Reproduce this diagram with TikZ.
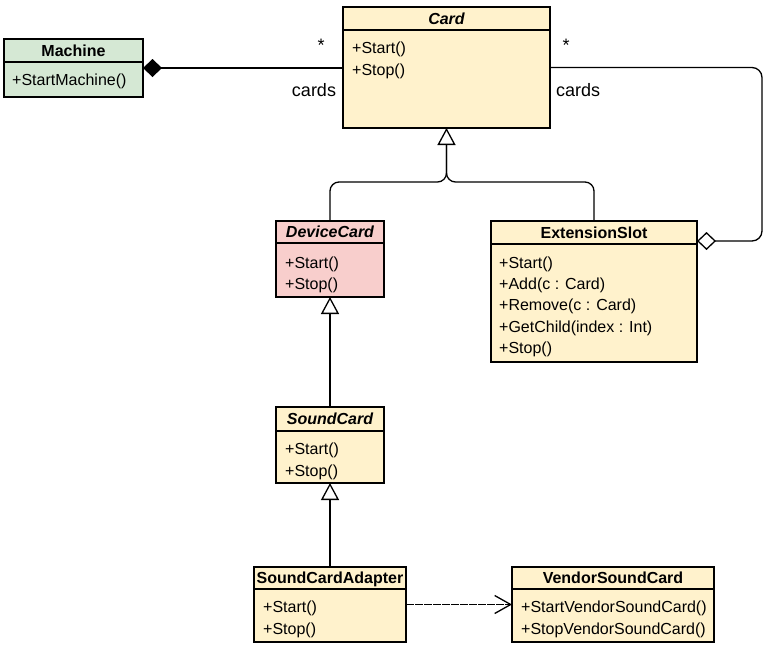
\documentclass[tikz,border=0pt]{standalone}
\usepackage{fontspec}
\setmainfont{Liberation Sans}
\usetikzlibrary{arrows.meta}
\definecolor{yelfill}{HTML}{FFF2CC}
\definecolor{grnfill}{HTML}{D5E8D4}
\definecolor{pinkfill}{HTML}{F8CECC}
\begin{document}
\begin{tikzpicture}[x=1pt,y=-1pt,
  cls/.style={draw=black, line width=1.3pt, inner sep=0pt, outer sep=0pt},
  ttl/.style={anchor=base, inner sep=0pt, font=\fontsize{16}{19}\selectfont\bfseries},
  itl/.style={anchor=base, inner sep=0pt, font=\fontsize{16}{19}\selectfont\bfseries\itshape},
  mem/.style={anchor=base west, inner sep=0pt, font=\fontsize{16}{19}\selectfont},
  lbl/.style={inner sep=0pt, font=\fontsize{18}{20}\selectfont},
  conn/.style={line width=1.3pt, draw=black}]
\useasboundingbox (0,0) rectangle (765,646);

% ---- classes ----
\node[cls, fill=grnfill, minimum width=139pt, minimum height=58pt] (machine) at (73.5,68) {};
\draw[conn] (machine.west |- 0,62) -- (machine.east |- 0,62);
\node[ttl] (machineT) at (73.5,56) {Machine};
\node[mem] (machineM1) at (12,85) {+StartMachine()};

\node[cls, fill=yelfill, minimum width=207pt, minimum height=121pt] (card) at (446.5,67.5) {};
\draw[conn] (card.west |- 0,30) -- (card.east |- 0,30);
\node[itl] (cardT) at (446.5,24) {Card};
\node[mem] (cardM1) at (352,53) {+Start()};
\node[mem] (cardM2) at (352,75) {+Stop()};

\node[cls, fill=pinkfill, minimum width=108pt, minimum height=76pt] (devicecard) at (330,259) {};
\draw[conn] (devicecard.west |- 0,243) -- (devicecard.east |- 0,243);
\node[itl] (devicecardT) at (330,237.5) {DeviceCard};
\node[mem] (devicecardM1) at (285,268) {+Start()};
\node[mem] (devicecardM2) at (285,289) {+Stop()};

\node[cls, fill=yelfill, minimum width=206pt, minimum height=141pt] (extslot) at (594,291.5) {};
\draw[conn] (extslot.west |- 0,244) -- (extslot.east |- 0,244);
\node[ttl] (extslotT) at (594,238) {ExtensionSlot};
\node[mem] (extslotM1) at (499,268) {+Start()};
\node[mem] (extslotM2) at (499,289.5) {+Add(c : Card)};
\node[mem] (extslotM3) at (499,310.5) {+Remove(c : Card)};
\node[mem] (extslotM4) at (499,332) {+GetChild(index : Int)};
\node[mem] (extslotM5) at (499,353) {+Stop()};

\node[cls, fill=yelfill, minimum width=108pt, minimum height=76pt] (soundcard) at (330,445) {};
\draw[conn] (soundcard.west |- 0,431) -- (soundcard.east |- 0,431);
\node[itl] (soundcardT) at (330,424.5) {SoundCard};
\node[mem] (soundcardM1) at (285,454.5) {+Start()};
\node[mem] (soundcardM2) at (285,476) {+Stop()};

\node[cls, fill=yelfill, minimum width=152pt, minimum height=75pt] (adapter) at (330,604.5) {};
\draw[conn] (adapter.west |- 0,589) -- (adapter.east |- 0,589);
\node[ttl] (adapterT) at (330,583.5) {SoundCardAdapter};
\node[mem] (adapterM1) at (263,612.5) {+Start()};
\node[mem] (adapterM2) at (263,634) {+Stop()};

\node[cls, fill=yelfill, minimum width=202pt, minimum height=75pt] (vendor) at (613,604.5) {};
\draw[conn] (vendor.west |- 0,589) -- (vendor.east |- 0,589);
\node[ttl] (vendorT) at (613,583.5) {VendorSoundCard};
\node[mem] (vendorM1) at (521,612.5) {+StartVendorSoundCard()};
\node[mem] (vendorM2) at (521,634) {+StopVendorSoundCard()};

% ---- connectors ----
\draw[conn, {Diamond[length=19pt,width=18pt]}-] (machine.east) -- (machine.east -| card.west);
\node[lbl] (star1) at (321,45) {*};
\node[lbl] (cards1) at (314,90) {cards};

\coordinate (agg) at (extslot.east |- 0,241);
\draw[conn, rounded corners=10pt, {Diamond[open, length=19pt, width=18pt]}-] (agg) -- (762,241) -- (762,67.5) -- (card.east);
\node[lbl] (star2) at (566,45) {*};
\node[lbl] (cards2) at (578,90) {cards};

\coordinate (jn) at (446.5,182);
\draw[conn, rounded corners=9pt] (extslot.north) |- (jn) -- (card.south);
\draw[conn, rounded corners=9pt, -{Triangle[fill=white, length=17pt, width=18pt]}] (devicecard.north) |- (jn) -- (card.south);

\draw[conn, -{Triangle[fill=white, length=17pt, width=18pt]}] (soundcard.north) -- (devicecard.south);
\draw[conn, -{Triangle[fill=white, length=17pt, width=18pt]}] (adapter.north) -- (soundcard.south);

\draw[conn, dash pattern=on 8pt off 1pt, -{Straight Barb[length=16pt, width=18pt]}] (adapter.east) -- (vendor.west);
\end{tikzpicture}
\end{document}
